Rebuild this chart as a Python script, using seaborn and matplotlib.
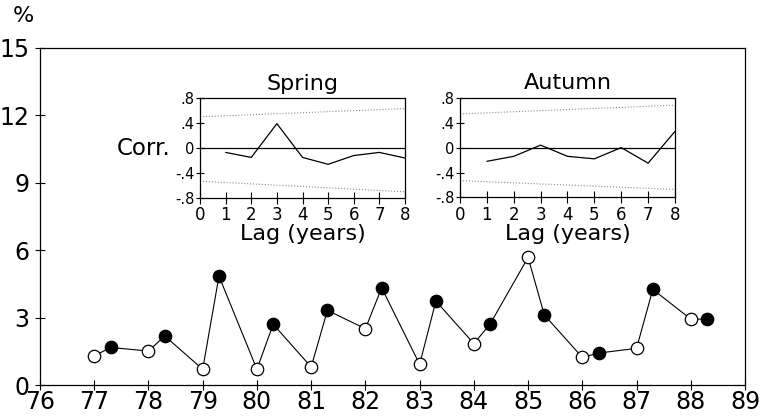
import numpy as np
import pandas as pd
import seaborn as sns
import matplotlib
matplotlib.use('Agg')
import matplotlib.pyplot as plt

# data
years = [77, 78, 79, 80, 81, 82, 83, 84, 85, 86, 87, 88]
spring_pct = [1.29, 1.51, 0.70, 0.70, 0.80, 2.50, 0.92, 1.84, 5.67, 1.23, 1.63, 2.93]
autumn_pct = [1.67, 2.18, 4.84, 2.70, 3.32, 4.32, 3.73, 2.71, 3.11, 1.42, 4.25, 2.93]
autumn_offset = 0.3  # autumn sample sits later in the year

lags = [1, 2, 3, 4, 5, 6, 7, 8]
spring_acf = [-0.07, -0.15, 0.39, -0.15, -0.26, -0.12, -0.07, -0.16]
autumn_acf = [-0.22, -0.14, 0.04, -0.14, -0.18, 0.00, -0.25, 0.26]
band_lags = [0, 8]
spring_upper = [0.50, 0.63]
spring_lower = [-0.53, -0.70]
autumn_upper = [0.54, 0.68]
autumn_lower = [-0.53, -0.67]

sns.set_style('white')
plt.rcParams['font.family'] = ['DejaVu Sans']
# plain black text like the printed figure
for k in ['text.color', 'axes.labelcolor', 'xtick.color', 'ytick.color', 'axes.edgecolor']:
    plt.rcParams[k] = 'black'

# long table, spring then autumn for each year
rows = []
for y, s, a in zip(years, spring_pct, autumn_pct):
    rows.append({'t': y, 'pct': s, 'season': 'Spring'})
    rows.append({'t': y + autumn_offset, 'pct': a, 'season': 'Autumn'})
df = pd.DataFrame(rows)

fig = plt.figure(figsize=(7.62, 4.17), dpi=100)
ax = fig.add_axes([0.0525, 0.0767, 0.9252, 0.8093])

sns.lineplot(data=df, x='t', y='pct', sort=False, color='black', lw=0.8, ax=ax, zorder=1)
sns.scatterplot(data=df[df['season'] == 'Spring'], x='t', y='pct', s=80, color='white',
                edgecolor='black', linewidth=0.9, ax=ax, zorder=3)
sns.scatterplot(data=df[df['season'] == 'Autumn'], x='t', y='pct', s=80, color='black',
                edgecolor='black', linewidth=0.9, ax=ax, zorder=3)

ax.set_xlim(76, 89)
ax.set_ylim(0, 15)
ax.set_xticks(range(76, 90))
ax.set_yticks([0, 3, 6, 9, 12, 15])
ax.set_xlabel('')
ax.set_ylabel('')
ax.tick_params(axis='both', direction='inout', length=7, width=0.8, labelsize=17,
               left=True, bottom=True)
ax.tick_params(axis='x', pad=0)
ax.tick_params(axis='y', pad=4)
for sp in ax.spines.values():
    sp.set_linewidth(0.9)
fig.text(0.017, 0.985, '%', fontsize=16, va='top', ha='left')


def acf_inset(rect, title, acf, upper, lower, ylabel=False):
    ins = fig.add_axes(rect)
    sns.lineplot(x=lags, y=acf, color='black', lw=0.9, ax=ins)
    sns.lineplot(x=band_lags, y=upper, color='0.55', lw=0.8, ls=':', ax=ins)
    sns.lineplot(x=band_lags, y=lower, color='0.55', lw=0.8, ls=':', ax=ins)
    ins.axhline(0, color='black', lw=0.9)
    ins.set_xlim(0, 8)
    ins.set_ylim(-0.8, 0.8)
    ins.set_xticks(range(0, 9))
    ins.set_yticks([-0.8, -0.4, 0, 0.4, 0.8])
    ins.set_yticklabels(['-.8', '-.4', '0', '.4', '.8'])
    ins.tick_params(axis='x', direction='inout', length=8, width=0.8, labelsize=12, pad=2)
    ins.tick_params(axis='y', direction='inout', length=6, width=0.8, labelsize=10.5, pad=1)
    ins.tick_params(left=True, bottom=True)
    ins.set_xlabel('Lag (years)', fontsize=16, labelpad=0)
    ins.set_title(title, fontsize=16, pad=6)
    if ylabel:
        ins.set_ylabel('Corr.', fontsize=16.5, rotation=0, ha='right', va='center', labelpad=3)
    for sp in ins.spines.values():
        sp.set_linewidth(0.9)
    ins.set_facecolor('white')
    return ins


acf_inset([0.2625, 0.525, 0.269, 0.24], 'Spring', spring_acf, spring_upper, spring_lower, ylabel=True)
acf_inset([0.6037, 0.5264, 0.2821, 0.2393], 'Autumn', autumn_acf, autumn_upper, autumn_lower)

fig.savefig('out.png', dpi=100)
